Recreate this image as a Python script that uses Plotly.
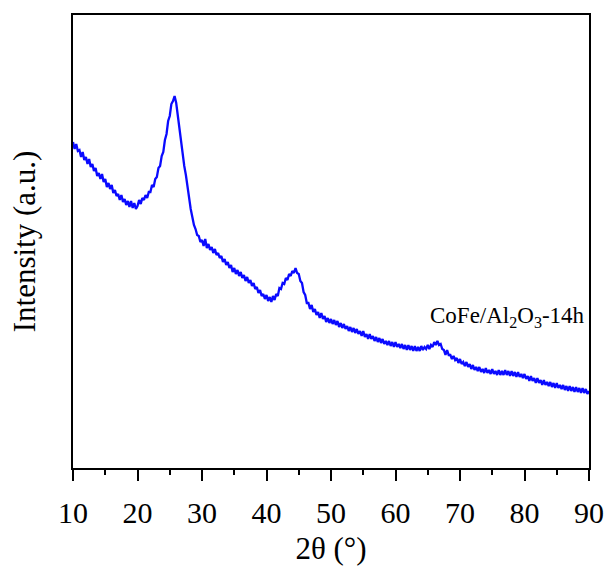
import plotly.graph_objects as go

start_2theta = 10.0
step_2theta = 0.25
intensity = [
    326, 319, 324, 317,  318, 311, 316, 308,  311, 304, 309, 301,  304, 297, 300, 292,  295, 289, 294, 286,  # 10-14
    289, 281, 285, 279,  283, 275, 278, 272,  274, 268, 273, 266,  269, 263, 267, 261,  267, 260, 265, 259,  # 15-19
    262, 268, 264, 270,  268, 273, 270, 276,  276, 283, 281, 289,  291, 300, 302, 312,  316, 328, 334, 347,  # 20-24
    352, 364, 367, 372,  365, 352, 344, 327,  313, 302, 293, 281,  271, 259, 251, 243,  239, 233, 232, 226,  # 25-29
    228, 222, 229, 220,  224, 218, 221, 215,  219, 213, 215, 210,  212, 206, 209, 203,  206, 200, 203, 196,  # 30-34
    200, 194, 198, 192,  196, 190, 193, 187,  191, 185, 188, 182,  185, 179, 181, 175,  178, 172, 174, 169,  # 35-39
    173, 167, 171, 166,  172, 168, 174, 172,  180, 179, 185, 184,  190, 188, 194, 192,  197, 195, 200, 195,  # 40-44
    194, 187, 185, 176,  173, 165, 165, 159,  163, 156, 159, 153,  156, 150, 155, 149,  152, 146, 150, 145,  # 45-49
    149, 144, 148, 143,  147, 141, 145, 140,  144, 139, 142, 137,  141, 136, 140, 135,  139, 134, 137, 132,  # 50-54
    137, 131, 134, 129,  134, 129, 132, 127,  131, 126, 130, 125,  129, 124, 127, 123,  127, 122, 126, 121,  # 55-59
    126, 121, 124, 120,  124, 119, 123, 118,  123, 118, 122, 117,  122, 117, 121, 117,  122, 118, 121, 119,  # 60-64
    123, 119, 123, 121,  126, 123, 127, 123,  124, 119, 118, 113,  118, 113, 113, 109,  112, 108, 110, 105,  # 65-69
    109, 104, 106, 102,  106, 101, 104, 99,   103, 98, 101, 97,   101, 96, 99, 95,    100, 95, 98, 94,    # 70-74
    99, 94, 97, 93,      98, 93, 97, 93,      98, 93, 97, 92,     97, 92, 96, 91,     96, 91, 94, 90,     # 75-79
    94, 89, 92, 87,      92, 87, 90, 85,      90, 85, 88, 83,     88, 83, 86, 82,     86, 81, 85, 80,     # 80-84
    85, 80, 83, 79,      83, 78, 82, 77,      82, 77, 81, 76,     81, 76, 80, 75,     80, 75, 79, 74,     # 85-89
    77,                                                                                                   # 90
]
two_theta = [start_2theta + step_2theta * i for i in range(len(intensity))]

sample_label = "CoFe/Al<sub>2</sub>O<sub>3</sub>-14h"
x_ticks = [10, 20, 30, 40, 50, 60, 70, 80, 90]

FONT = "Liberation Serif, Times New Roman, serif"

fig = go.Figure()
fig.add_trace(go.Scatter(
    x=two_theta, y=intensity, mode="lines",
    line=dict(color="#0a0aff", width=2.3),
    showlegend=False, hoverinfo="skip",
))

fig.add_annotation(
    x=77.3, y=151, xref="x", yref="y", text=sample_label, showarrow=False,
    font=dict(family=FONT, size=23, color="black"), xanchor="center", yanchor="middle",
)

fig.update_layout(
    width=609, height=566,
    margin=dict(l=73, r=20, t=15, b=98),
    paper_bgcolor="white", plot_bgcolor="white",
    font=dict(family=FONT, color="black"),
)
fig.update_xaxes(
    range=[10, 90], tickvals=x_ticks, ticktext=[str(v) for v in x_ticks],
    automargin=False,
    showline=True, mirror=True, linecolor="black", linewidth=2,
    ticks="outside", ticklen=11, tickwidth=2, tickcolor="black",
    minor=dict(dtick=5, ticks="outside", ticklen=5, tickwidth=2, tickcolor="black", showgrid=False),
    showgrid=False, zeroline=False,
    ticklabelstandoff=6,
    tickfont=dict(family=FONT, size=30, color="black"),
    title=dict(text="2θ (°)", font=dict(family=FONT, size=31, color="black"), standoff=10),
)
fig.update_yaxes(
    range=[0, 453], showticklabels=False, ticks="",
    automargin=False,
    showline=True, mirror=True, linecolor="black", linewidth=2,
    showgrid=False, zeroline=False,
    title=dict(text="Intensity (a.u.)", font=dict(family=FONT, size=31, color="black"), standoff=26),
)

fig.write_html("out.html")
